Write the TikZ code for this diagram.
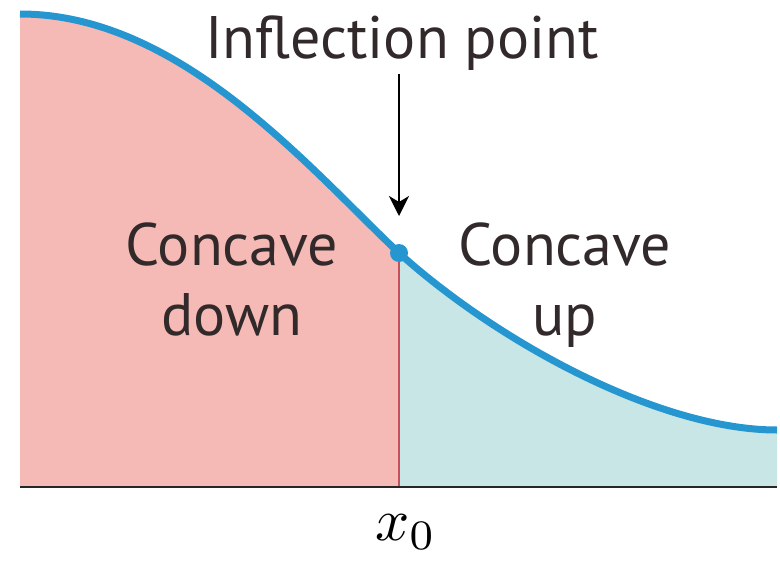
\documentclass[tikz,border=0pt]{standalone}
\usepackage{fontspec}
\setmainfont{PT Sans}
\usetikzlibrary{arrows.meta,positioning}
\definecolor{downfill}{RGB}{246,186,182}
\definecolor{upfill}{RGB}{200,230,230}
\definecolor{curveblue}{RGB}{38,150,208}
\definecolor{labelgray}{RGB}{50,42,42}
\definecolor{splitred}{RGB}{196,80,92}

\begin{document}
\begin{tikzpicture}[x=1pt,y=-1pt,
  region label/.style={text=labelgray, font=\fontsize{60}{70}\selectfont, align=center}]
\useasboundingbox (0,0) rectangle (780,562);
\coordinate (start) at (20,14);
\coordinate (infl) at (399,253);
\coordinate (finish) at (777,430);
\coordinate (axisL) at (20,487);
\coordinate (axisR) at (777,487);
\coordinate (foot) at (399,487);
\coordinate (tip) at (399,216);
% shaded regions
\fill[downfill] (axisL) -- (start) .. controls (180,14) and (309,168) .. (infl) -- (foot) -- cycle;
\fill[upfill] (foot) -- (infl) .. controls (499,343) and (660,430) .. (finish) -- (axisR) -- cycle;
\draw[splitred, line width=1.5pt] (infl) -- (foot);
\draw[black!85, line width=2pt] (axisL) -- (axisR);
% the curve
\draw[curveblue, line width=7pt] (start) .. controls (180,14) and (309,168) .. (infl)
  .. controls (499,343) and (660,430) .. (finish);
\fill[curveblue] (infl) circle (9pt);
% labels
\node[text=labelgray, font=\fontsize{60}{70}\selectfont, anchor=base] (title) at (402,58) {Inflection point};
\draw[-{Stealth[length=20pt,width=20pt,inset=6pt]}, line width=2pt] (title.south -| tip) -- (tip);
\node[region label, anchor=base] (down) at (232,335) {Concave\\down};
\node[region label, anchor=base] (up) at (565,335) {Concave\\up};
\node[anchor=base west, inner sep=0pt] (xzero) at (375,540) {\scalebox{6}{$x_0$}};
\end{tikzpicture}
\end{document}
